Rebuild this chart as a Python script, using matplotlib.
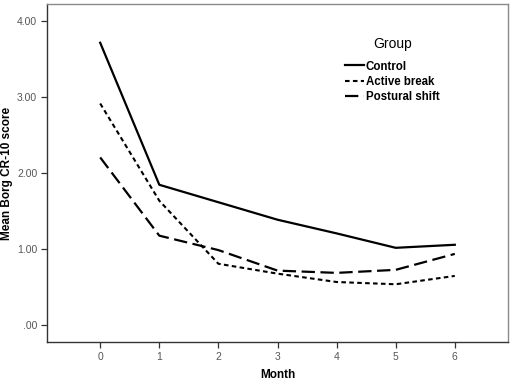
import matplotlib
matplotlib.use("Agg")
import matplotlib.pyplot as plt

months = [0, 1, 2, 3, 4, 5, 6]
control = [3.71, 1.84, 1.61, 1.38, 1.20, 1.01, 1.05]
active_break = [2.91, 1.63, 0.80, 0.67, 0.56, 0.53, 0.64]
postural_shift = [2.20, 1.17, 0.98, 0.71, 0.68, 0.72, 0.93]
yticks = [0, 1, 2, 3, 4]
ytick_labels = [".00", "1.00", "2.00", "3.00", "4.00"]

plt.rcParams['font.family'] = ['Liberation Sans', 'DejaVu Sans']

fig = plt.figure(figsize=(5.14, 3.83), dpi=100)
ax = fig.add_axes([47/514, 41/383, 461/514, 338/383])

ax.plot(months, control, color='black', lw=1.6, linestyle='-', label='Control')
ax.plot(months, active_break, color='black', lw=1.5, linestyle=(0, (2.2, 1.6)), label='Active break')
ax.plot(months, postural_shift, color='black', lw=1.6, linestyle=(0, (6, 2.5)), label='Postural shift')

ax.set_xlim(-0.9, 6.9)
ax.set_ylim(-0.23, 4.22)
ax.set_xticks(months)
ax.set_xticklabels([str(m) for m in months])
ax.set_yticks(yticks)
ax.set_yticklabels(ytick_labels)
for s in ax.spines.values():
    s.set_color('#8a8a8a')
    s.set_linewidth(1.0)
ax.spines['left'].set_color('#333333')
ax.spines['bottom'].set_color('#333333')
ax.tick_params(axis='both', direction='out', length=4, width=0.9, color='#333333',
               labelsize=7.5, labelcolor='#555555', pad=3)

ax.set_xlabel('Month', fontsize=8.5, fontweight='bold', labelpad=5)
ax.set_ylabel('Mean Borg CR-10 score', fontsize=8.5, fontweight='bold', labelpad=3)

leg = ax.legend(loc='upper left', bbox_to_anchor=(0.635, 0.92), frameon=False,
                title='Group', fontsize=8.3, title_fontsize=10, borderpad=0,
                handlelength=1.6, handletextpad=0.15, labelspacing=0.3)
for t in leg.get_texts():
    t.set_fontweight('bold')
leg._legend_box.sep = 7

fig.savefig('out.png', dpi=100)
